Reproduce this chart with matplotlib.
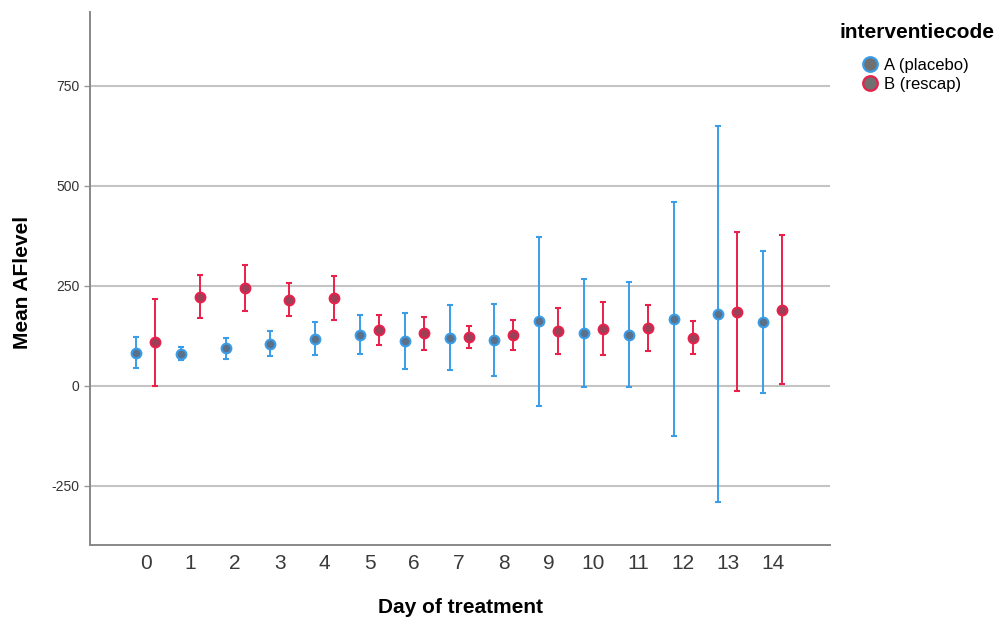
import matplotlib
matplotlib.use("Agg")
import matplotlib.pyplot as plt
from matplotlib.lines import Line2D

plt.rcParams['font.family'] = ['Liberation Sans', 'DejaVu Sans']

days = list(range(15))

# group A (placebo): mean and 95% CI ends
mean_a  = [83, 80, 94, 105, 118, 128, 112, 121, 115, 162, 132, 127, 167, 179, 161]
lower_a = [44, 65, 68, 74, 78, 79, 42, 39, 25, -49, -2, -3, -124, -291, -17]
upper_a = [123, 97, 119, 137, 161, 177, 183, 203, 205, 373, 268, 259, 459, 650, 338]

# group B (rescap)
mean_b  = [109, 222, 246, 215, 219, 139, 132, 122, 127, 137, 143, 144, 121, 186, 191]
lower_b = [1, 170, 188, 174, 165, 102, 91, 95, 90, 79, 77, 87, 81, -12, 4]
upper_b = [217, 277, 303, 257, 276, 177, 172, 150, 165, 194, 210, 203, 162, 385, 378]

yticks = [-250, 0, 250, 500, 750]
groups = ['A (placebo)', 'B (rescap)']

blue = '#3a9de8'
red = '#e8204a'
dodge = 0.212

fig = plt.figure(figsize=(10.08, 6.21), dpi=100)
ax = fig.add_axes([0.0893, 0.1224, 0.7341, 0.8583])

for y in yticks:
    ax.axhline(y, color='#c4c4c4', lw=1.5, zorder=0)

xa = [d - dodge for d in days]
xb = [d + dodge for d in days]
err_a = [[m - lo for m, lo in zip(mean_a, lower_a)], [hi - m for m, hi in zip(mean_a, upper_a)]]
err_b = [[m - lo for m, lo in zip(mean_b, lower_b)], [hi - m for m, hi in zip(mean_b, upper_b)]]

ax.errorbar(xa, mean_a, yerr=err_a, fmt='none', ecolor=blue, elinewidth=1.4,
            capsize=1.9, capthick=1.5, zorder=2)
ax.errorbar(xb, mean_b, yerr=err_b, fmt='none', ecolor=red, elinewidth=1.4,
            capsize=1.9, capthick=1.5, zorder=2)
ax.plot(xa, mean_a, 'o', ms=7, mfc='#5b7189', mec=blue, mew=1.5, zorder=3)
ax.plot(xb, mean_b, 'o', ms=7, mfc='#9a4058', mec=red, mew=1.5, zorder=3)

ax.set_xlim(-1.24, 15.28)
ax.set_ylim(-397.5, 935)
ax.set_xticks(days)
ax.set_xticklabels([str(d) for d in days], fontsize=15, color='#3a3a3a')
ax.set_yticks(yticks)
ax.set_yticklabels([str(y) for y in yticks], fontsize=10, color='#333333')
ax.tick_params(axis='x', length=0, pad=6.5)
ax.tick_params(axis='y', length=4, color='#999999', width=1)

for s in ['top', 'right']:
    ax.spines[s].set_visible(False)
for s in ['left', 'bottom']:
    ax.spines[s].set_color('#888888')
    ax.spines[s].set_linewidth(1.4)

ax.set_xlabel('Day of treatment', fontsize=15, fontweight='bold')
ax.set_ylabel('Mean AFlevel', fontsize=15, fontweight='bold')
ax.xaxis.set_label_coords(0.5, -0.100)
ax.yaxis.set_label_coords(-0.079, 0.493)

fig.text(917 / 1008, 1 - 33 / 621, 'interventiecode', fontsize=15, fontweight='bold',
         ha='center', va='center')
handles = [
    Line2D([], [], marker='o', ls='none', ms=10.5, mfc='#707070', mec=blue, mew=1.6),
    Line2D([], [], marker='o', ls='none', ms=10.5, mfc='#707070', mec=red, mew=1.6),
]
fig.legend(handles, groups, loc='center', bbox_to_anchor=(915 / 1008, 1 - 75 / 621),
           frameon=False, fontsize=12, handletextpad=0.35, labelspacing=0.22,
           borderpad=0.2, handlelength=1.0)

fig.savefig('out.png', dpi=100)
